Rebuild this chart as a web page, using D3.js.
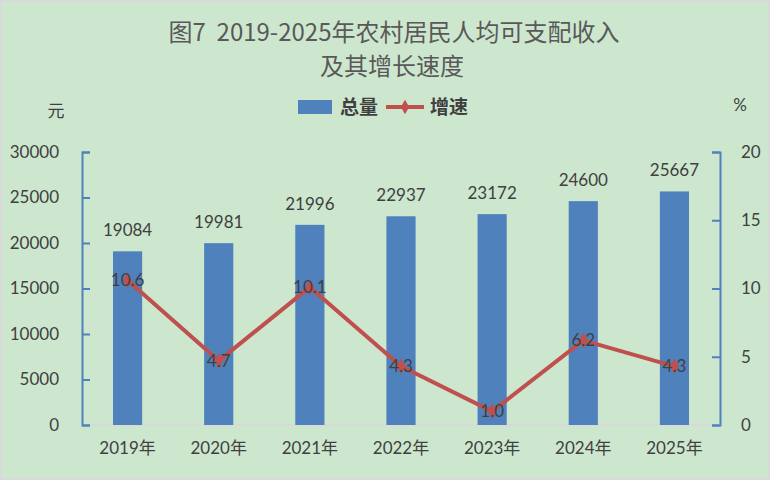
<!DOCTYPE html>
<html>
<head>
<meta charset="utf-8">
<script src="https://cdn.jsdelivr.net/npm/d3@7"></script>
<style>
  html, body { margin: 0; padding: 0; background: #fff; }
  svg { display: block; }
  text { font-family: Lato, "Noto Sans CJK SC", sans-serif; fill: #404040; }
</style>
</head>
<body>
<script>
"use strict";

// data
let years = ["2019年", "2020年", "2021年", "2022年", "2023年", "2024年", "2025年"];
let totals = [19084, 19981, 21996, 22937, 23172, 24600, 25667];
let growth = [10.6, 4.7, 10.1, 4.3, 1.0, 6.2, 4.3];
let leftTicks = [0, 5000, 10000, 15000, 20000, 25000, 30000];
let rightTicks = [0, 5, 10, 15, 20];

let w = 770, h = 480;
let m = {top: 152, right: 50, bottom: 55, left: 82};

let svg = d3.select("body").append("svg")
    .attr("width", w)
    .attr("height", h);

svg.append("rect")
    .attr("x", 1).attr("y", 1)
    .attr("width", w - 2).attr("height", h - 2)
    .attr("fill", "#cde7cf")
    .attr("stroke", "#d9d9d9")
    .attr("stroke-width", 2);

let x = d3.scaleBand().domain(years).range([m.left, w - m.right]);
let yL = d3.scaleLinear().domain([0, 30000]).range([h - m.bottom, m.top]);
let yR = d3.scaleLinear().domain([0, 20]).range([h - m.bottom, m.top]);

// title
let title = svg.append("g").attr("class", "title");
title.append("text")
    .attr("x", 394).attr("y", 41)
    .attr("text-anchor", "middle")
    .style("white-space", "pre")
    .style("font-family", "'Noto Sans CJK SC', sans-serif")
    .style("font-size", "24px")
    .style("fill", "#595959")
    .text("图7  2019-2025年农村居民人均可支配收入");
title.append("text")
    .attr("x", 392).attr("y", 75)
    .attr("text-anchor", "middle")
    .style("font-family", "'Noto Sans CJK SC', sans-serif")
    .style("font-size", "24px")
    .style("fill", "#595959")
    .text("及其增长速度");

// units
svg.append("text").attr("x", 56).attr("y", 117)
    .attr("text-anchor", "middle")
    .style("font-family", "'Noto Sans CJK SC', sans-serif")
    .style("font-size", "17px")
    .text("元");
svg.append("text").attr("x", 740).attr("y", 111)
    .attr("text-anchor", "middle")
    .style("font-size", "17px")
    .text("%");

// legend
let legend = svg.append("g").attr("class", "legend");
legend.append("rect")
    .attr("x", 298).attr("y", 100)
    .attr("width", 34).attr("height", 14)
    .attr("fill", "#4f81bd");
legend.append("text")
    .attr("x", 340).attr("y", 114)
    .style("font-family", "'Noto Sans CJK SC', sans-serif")
    .style("font-size", "19px").style("font-weight", "bold")
    .text("总量");
legend.append("line")
    .attr("x1", 386).attr("x2", 424)
    .attr("y1", 107).attr("y2", 107)
    .attr("stroke", "#c0504d").attr("stroke-width", 4);
legend.append("path")
    .attr("d", d3.symbol(d3.symbolDiamond, 60)())
    .attr("transform", "translate(405,107)")
    .attr("fill", "#c0504d");
legend.append("text")
    .attr("x", 430).attr("y", 114)
    .style("font-family", "'Noto Sans CJK SC', sans-serif")
    .style("font-size", "19px").style("font-weight", "bold")
    .text("增速");

// x baseline
svg.append("line")
    .attr("x1", m.left).attr("x2", w - m.right)
    .attr("y1", h - m.bottom).attr("y2", h - m.bottom)
    .attr("stroke", "#d9d9d9").attr("stroke-width", 2);

// bars
let barW = x.bandwidth() * 0.32;
svg.append("g").selectAll("rect")
    .data(totals)
    .enter().append("rect")
    .attr("x", (d, i) => x(years[i]) + x.bandwidth() / 2 - barW / 2)
    .attr("y", d => yL(d))
    .attr("width", barW)
    .attr("height", d => yL(0) - yL(d))
    .attr("fill", "#4f81bd");

// axes
let axisL = svg.append("g")
    .attr("transform", `translate(${m.left},0)`)
    .call(d3.axisLeft(yL).tickValues(leftTicks).tickFormat(d3.format("d"))
        .tickSize(-8).tickPadding(23));
let axisR = svg.append("g")
    .attr("transform", `translate(${w - m.right},0)`)
    .call(d3.axisRight(yR).tickValues(rightTicks).tickSize(-8).tickPadding(21));
for (let a of [axisL, axisR]) {
    a.select(".domain").attr("stroke", "#4f81bd").attr("stroke-width", 2);
    a.selectAll(".tick line").attr("stroke", "#4f81bd").attr("stroke-width", 2);
    a.selectAll(".tick text")
        .attr("fill", "#404040")
        .style("font-family", "Lato, sans-serif")
        .style("font-size", "17px");
}

let axisX = svg.append("g")
    .attr("transform", `translate(0,${h - m.bottom})`)
    .call(d3.axisBottom(x).tickSize(0).tickPadding(17));
axisX.select(".domain").remove();
axisX.selectAll(".tick text")
    .attr("fill", "#404040")
    .style("font-family", "Lato, 'Noto Sans CJK SC', sans-serif")
    .style("font-size", "17px");

// bar labels
svg.append("g").selectAll("text")
    .data(totals)
    .enter().append("text")
    .attr("x", (d, i) => x(years[i]) + x.bandwidth() / 2)
    .attr("y", d => yL(d) - 15)
    .attr("text-anchor", "middle")
    .style("font-size", "17px")
    .text(d => d);

// growth line
let cx = i => x(years[i]) + x.bandwidth() / 2;
let line = d3.line()
    .x((d, i) => cx(i))
    .y(d => yR(d));
svg.append("path")
    .datum(growth)
    .attr("d", line)
    .attr("fill", "none")
    .attr("stroke", "#c0504d")
    .attr("stroke-width", 4)
    .attr("stroke-linejoin", "round");
svg.append("g").selectAll("path")
    .data(growth)
    .enter().append("path")
    .attr("d", d3.symbol(d3.symbolDiamond, 70)())
    .attr("transform", (d, i) => `translate(${cx(i)},${yR(d)})`)
    .attr("fill", "#c0504d");

svg.append("g").selectAll("text")
    .data(growth)
    .enter().append("text")
    .attr("x", (d, i) => cx(i))
    .attr("y", d => yR(d) + 6)
    .attr("text-anchor", "middle")
    .style("font-size", "17px")
    .text(d => d.toFixed(1));
</script>
</body>
</html>
